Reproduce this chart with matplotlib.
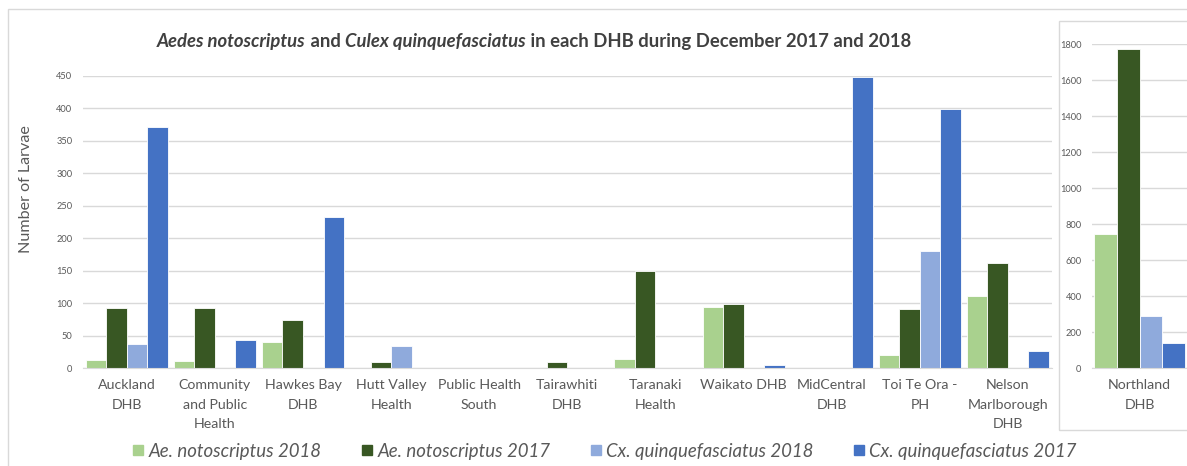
import numpy as np
import matplotlib.pyplot as plt
from matplotlib.patches import Rectangle
from matplotlib.lines import Line2D

plt.rcParams['font.family'] = ['Lato', 'DejaVu Sans']

# data
dhbs = ["Auckland\nDHB", "Community\nand Public\nHealth", "Hawkes Bay\nDHB",
        "Hutt Valley\nHealth", "Public Health\nSouth", "Tairawhiti\nDHB",
        "Taranaki\nHealth", "Waikato DHB", "MidCentral\nDHB", "Toi Te Ora -\nPH",
        "Nelson\nMarlborough\nDHB"]
ae_2018 = [13, 12, 40, 1, 0, 0, 15, 95, 1, 20, 112]
ae_2017 = [93, 93, 74, 9, 0, 9, 150, 99, 0, 92, 162]
cx_2018 = [38, 0, 0, 34, 0, 0, 0, 0, 0, 181, 0]
cx_2017 = [372, 44, 233, 0, 0, 0, 0, 5, 448, 399, 26]

north_dhb = ["Northland\nDHB"]
north_ae_2018 = [744]
north_ae_2017 = [1772]
north_cx_2018 = [291]
north_cx_2017 = [139]

series_names = ["Ae. notoscriptus 2018", "Ae. notoscriptus 2017",
                "Cx. quinquefasciatus 2018", "Cx. quinquefasciatus 2017"]
colors = ["#A9D18E", "#385723", "#8FAADC", "#4472C4"]

W, H = 1187, 466
fig = plt.figure(figsize=(W / 100, H / 100), dpi=100)
r = fig.canvas.get_renderer()


def px(x0, y0, x1, y1):
    # pixel box -> figure fraction [left, bottom, width, height]
    return [x0 / W, 1 - y1 / H, (x1 - x0) / W, (y1 - y0) / H]


def fit(s, target, **kw):
    # font size (pt) so that s is target px wide
    t = fig.text(0, 0, s, fontsize=10, **kw)
    wd = t.get_window_extent(r).width
    t.remove()
    return 10 * target / wd


def line_sp(size, pitch):
    t1 = fig.text(0, 0, "lp", fontsize=size)
    t2 = fig.text(0, 0, "lp\nlp", fontsize=size, linespacing=1.2)
    d = t2.get_window_extent(r).height - t1.get_window_extent(r).height
    t1.remove()
    t2.remove()
    return 1.2 * pitch / d


grid_c = "#D9D9D9"
txt_c = "#595959"

cat_fs = fit("Public Health", 83)
cat_ls = line_sp(cat_fs, 20)
tick_fs = fit("350", 16)

# frames
fig.patches.append(Rectangle((8 / W, -0.1), 1.2, 1 - 9 / H + 0.1, transform=fig.transFigure,
                             fill=False, edgecolor=grid_c, lw=1))
fig.patches.append(Rectangle((1059 / W, 1 - 430 / H), 0.5, (430 - 20.7) / H,
                             transform=fig.transFigure, fill=False, edgecolor=grid_c, lw=1, zorder=0))


def style(ax, ymax, step):
    ax.set_ylim(0, ymax)
    ax.set_yticks(np.arange(0, ymax + 1, step))
    for s in ax.spines.values():
        s.set_visible(False)
    ax.spines['bottom'].set_visible(True)
    ax.spines['bottom'].set_color(grid_c)
    ax.yaxis.grid(True, color=grid_c, lw=1)
    ax.set_axisbelow(True)
    ax.tick_params(axis='y', length=0, labelsize=tick_fs, labelcolor=txt_c, pad=7.5)
    ax.tick_params(axis='x', length=0, labelsize=cat_fs, labelcolor=txt_c, pad=8)
    ax.patch.set_alpha(0)


# main chart
ax = fig.add_axes(px(82.7, 75.8, 1052, 368.3))
x = np.arange(len(dhbs))
w = 0.233
for i, vals in enumerate([ae_2018, ae_2017, cx_2018, cx_2017]):
    ax.bar(x + (i - 1.5) * w, vals, w, color=colors[i], edgecolor="white", lw=0.6)
ax.set_xlim(-0.5, len(dhbs) - 0.5)
ax.set_xticks(x)
ax.set_xticklabels(dhbs, linespacing=cat_ls)
style(ax, 450, 50)
ax.set_ylabel("Number of Larvae", fontsize=fit("Number of Larvae", 128), color=txt_c)
ax.yaxis.set_label_coords((32.5 - 82.7) / (1052 - 82.7), (368.3 - 189) / (368.3 - 75.8))

# Northland chart
ax2 = fig.add_axes(px(1092, 44.3, 1187, 368.3))
x2 = np.arange(len(north_dhb))
w2 = 0.237
for i, vals in enumerate([north_ae_2018, north_ae_2017, north_cx_2018, north_cx_2017]):
    ax2.bar(x2 + (i - 1.5) * w2, vals, w2, color=colors[i], edgecolor="white", lw=0.6)
ax2.set_xlim(-0.5, 0.5)
ax2.set_xticks(x2)
ax2.set_xticklabels(north_dhb, linespacing=cat_ls)
style(ax2, 1800, 200)

# title with italic species names
parts = [("Aedes notoscriptus", "italic"), (" and ", "normal"),
         ("Culex quinquefasciatus", "italic"),
         (" in each DHB during December 2017 and 2018", "normal")]
texts = [fig.text(0, 1 - 47 / H, s, fontsize=10, fontweight="bold", style=st,
                  color="#404040", va="baseline", ha="left") for s, st in parts]
k = 757 / sum(t.get_window_extent(r).width for t in texts)
for t in texts:
    t.set_fontsize(10 * k)
widths = [t.get_window_extent(r).width for t in texts]
x0 = 157
for t, wd in zip(texts, widths):
    t.set_x(x0 / W)
    x0 += wd

# legend
leg_fs = fit(series_names[0], 173, style="italic")
fpx = leg_fs * 100 / 72
handles = [Line2D([], [], marker="s", ls="none", markersize=7.2, color=c) for c in colors]
leg = fig.legend(handles, series_names, loc="center", bbox_to_anchor=(605 / W, 1 - 451 / H),
                 ncol=4, frameon=False, prop={"size": leg_fs, "style": "italic"},
                 handlelength=10 / fpx, handletextpad=5 / fpx, columnspacing=41 / fpx,
                 borderpad=0)
for t in leg.get_texts():
    t.set_color(txt_c)

fig.savefig("out.png", dpi=100)
